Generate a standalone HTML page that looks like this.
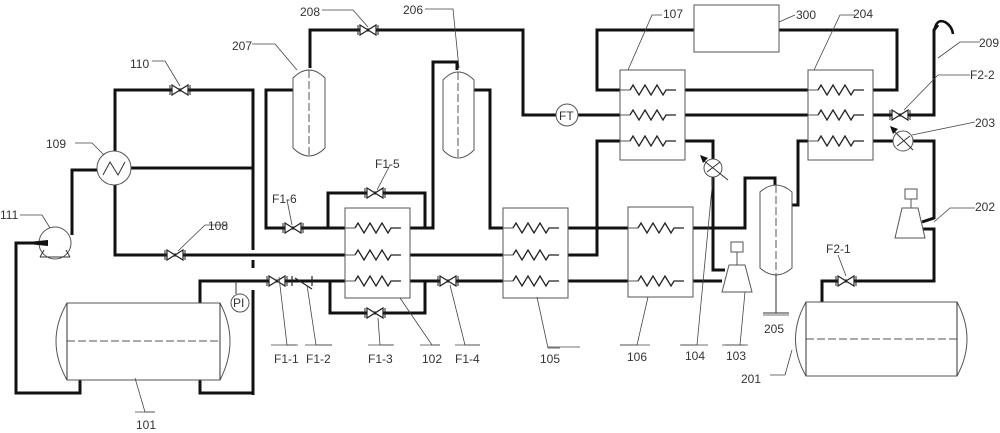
<!DOCTYPE html>
<html><head><meta charset="utf-8"><style>
html,body{margin:0;padding:0;background:#fff;}
svg{display:block;}
text{font-family:"Liberation Sans",sans-serif;font-size:12px;fill:#333;}
</style></head><body>
<svg width="1000" height="433" viewBox="0 0 1000 433" xmlns="http://www.w3.org/2000/svg">
<defs>
<g id="v"><polygon points="-8,-5 8,5 8,-5 -8,5" fill="#fff" stroke="#222" stroke-width="1.2"/><line x1="-10" y1="-5" x2="-10" y2="5" stroke="#222"/><line x1="10" y1="-5" x2="10" y2="5" stroke="#222"/></g>
<g id="c"><line x1="0" y1="0" x2="10" y2="0" stroke="#555" stroke-width="1"/><path d="M10,0 l3,-5 l6,10 l6,-10 l6,10 l6,-10 l6,10 l3,-5 l10,0" fill="none" stroke="#222" stroke-width="1.3"/></g>
</defs>
<g fill="none" stroke="#111" stroke-width="3">
<!-- left loop -->
<polyline points="115,168 115,90 253,90 253,250"/>
<line x1="253" y1="290" x2="253" y2="395"/>
<line x1="253" y1="260" x2="253" y2="268"/>
<polyline points="131,168 253,168"/>
<polyline points="98,170 72,170 72,235"/>
<polyline points="115,185 115,255 345,255"/>
<polyline points="33,243 16,243 16,393 80,393 80,380"/>
<polyline points="200,303 200,281 345,281"/>
<polyline points="200,380 200,393 253,393"/>
<polyline points="330,281 330,313 425,313 425,281"/>
<polyline points="410,281 503,281"/>
<polyline points="410,255 503,255"/>
<polyline points="345,228 266,228 266,90 293,90"/>
<polyline points="328,228 328,193 425,193 425,228"/>
<polyline points="410,228 433,228 433,62 457,62 457,70"/>
<polyline points="474,90 490,90 490,228 503,228"/>
<polyline points="310,68 310,30 523,30 523,115 556,115"/>
<line x1="578" y1="115" x2="620" y2="115"/>
<!-- right -->
<polyline points="620,90 597,90 597,30 694,30"/>
<polyline points="779,30 897,30 897,90 873,90"/>
<line x1="685" y1="90" x2="808" y2="90"/>
<line x1="685" y1="115" x2="808" y2="115"/>
<polyline points="873,115 934,115 934,30 938,25"/>
<path d="M934,32 Q936,18 945,22 Q952,26 953,34" stroke-width="2.5"/>
<polyline points="620,141 597,141 597,255 568,255"/>
<polyline points="685,141 713,141 713,270 725,270"/>
<line x1="568" y1="228" x2="628" y2="228"/>
<line x1="568" y1="281" x2="628" y2="281"/>
<polyline points="693,228 745,228 745,178 775,178 775,185"/>
<polyline points="792,205 798,205 798,141 808,141"/>
<line x1="693" y1="281" x2="722" y2="281"/>
<polyline points="873,141 934,141 934,218 922,222"/>
<polyline points="922,229 934,229 934,281 822,281 822,302"/>
</g>
<g fill="#fff" stroke="#555" stroke-width="1">
<rect x="345" y="208" width="65" height="90"/>
<rect x="503" y="208" width="65" height="90"/>
<rect x="628" y="207" width="65" height="90"/>
<rect x="620" y="70" width="65" height="90"/>
<rect x="808" y="70" width="65" height="90"/>
<rect x="694" y="5" width="85" height="47"/>
<!-- vessels -->
<path d="M293,78 Q309,62 325,78 L325,148 Q309,164 293,148 Z"/>
<path d="M443,80 Q458,64 474,80 L474,150 Q458,166 443,150 Z"/>
<path d="M760,192 Q776,178 792,192 L792,268 Q776,282 760,268 Z"/>
<!-- tanks -->
<path d="M67,303 L220,303 Q240,341 220,380 L67,380 Q45,341 67,303 Z"/>
<path d="M306,302 L456,302 Q476,339 456,376 L306,376 Q286,339 306,302 Z" transform="translate(0,0)" opacity="0"/>
<path d="M806,302 L957,302 Q977,339 957,376 L806,376 Q785,339 806,302 Z"/>
<circle cx="114" cy="168" r="17"/><circle cx="55" cy="243" r="16"/>
<circle cx="567" cy="115" r="11"/><circle cx="240" cy="303" r="9"/>
<circle cx="713" cy="168" r="9"/><circle cx="903" cy="141" r="10"/>
<polygon points="729,265 745,265 752,292 722,292"/>
<rect x="731" y="242" width="12" height="10"/><line x1="737" y1="252" x2="737" y2="265"/>
<polygon points="902,208 918,208 925,238 895,238"/>
<rect x="905" y="189" width="12" height="10"/><line x1="911" y1="199" x2="911" y2="208"/>
</g>
<g stroke="#555" stroke-width="1" fill="none" stroke-dasharray="8,3">
<line x1="67" y1="341" x2="220" y2="341"/><line x1="806" y1="339" x2="957" y2="339"/>
<line x1="309" y1="70" x2="309" y2="155"/><line x1="458" y1="72" x2="458" y2="158"/><line x1="776" y1="185" x2="776" y2="275"/>
</g>
<g stroke="#333" stroke-width="1" fill="none">
<line x1="67" y1="303" x2="67" y2="380"/><line x1="220" y1="303" x2="220" y2="380"/>
<line x1="806" y1="302" x2="806" y2="376"/><line x1="957" y1="302" x2="957" y2="376"/>
<path d="M103,175 L110,162 L118,175 L125,162"/>
<line x1="776" y1="275" x2="776" y2="313"/><line x1="763" y1="313" x2="789" y2="313"/>
<polyline points="236,281 236,294"/>
<line x1="40" y1="257" x2="70" y2="257"/><line x1="44" y1="250" x2="40" y2="257"/><line x1="66" y1="250" x2="70" y2="257"/>
<line x1="703" y1="160" x2="728" y2="180"/><line x1="893" y1="130" x2="913" y2="150"/>
<line x1="707" y1="172" x2="720" y2="162"/><line x1="897" y1="146" x2="910" y2="136"/>
</g>
<path d="M18,243 L48,240 L48,246 Z" fill="#111"/>
<polygon points="700,155 708,158 703,163" fill="#111"/><polygon points="890,126 898,129 893,134" fill="#111"/>
<!-- coils -->
<use href="#c" x="345" y="228"/><use href="#c" x="345" y="255"/><use href="#c" x="345" y="281"/>
<use href="#c" x="503" y="228"/><use href="#c" x="503" y="255"/><use href="#c" x="503" y="281"/>
<use href="#c" x="628" y="228"/><use href="#c" x="628" y="281"/>
<use href="#c" x="620" y="90"/><use href="#c" x="620" y="115"/><use href="#c" x="620" y="141"/>
<use href="#c" x="808" y="90"/><use href="#c" x="808" y="115"/><use href="#c" x="808" y="141"/>
<!-- valves -->
<use href="#v" x="180" y="90"/><use href="#v" x="175" y="255"/><use href="#v" x="368" y="30"/>
<use href="#v" x="293" y="228"/><use href="#v" x="375" y="193"/><use href="#v" x="277" y="281"/>
<use href="#v" x="375" y="313"/><use href="#v" x="448" y="281"/><use href="#v" x="900" y="115"/><use href="#v" x="846" y="281"/>
<g stroke="#222" stroke-width="1.2" fill="#fff"><line x1="292" y1="276" x2="292" y2="286"/><line x1="312" y1="276" x2="312" y2="286"/><line x1="295" y1="278" x2="312" y2="289"/></g>
<!-- leaders -->
<g stroke="#444" stroke-width="0.8" fill="none">
<polyline points="152,61 165,61 180,86"/><polyline points="75,143 92,143 104,155"/><polyline points="20,215 42,215 50,228"/>
<polyline points="228,225 205,225 178,251"/><polyline points="252,44 275,44 297,70"/><polyline points="322,10 353,10 368,27"/>
<polyline points="425,9 453,9 459,68"/><polyline points="287,200 292,225"/><polyline points="390,165 377,190"/>
<polyline points="279,277 287,345 296,345"/><polyline points="307,285 316,345 332,345"/><polyline points="378,318 380,345 393,345"/>
<polyline points="400,298 432,345 440,345"/><polyline points="450,285 465,345 480,345"/><polyline points="135,378 145,412 155,412"/>
<polyline points="537,297 548,348 560,348"/><polyline points="648,297 637,345 620,345"/><polyline points="713,177 697,345 681,345"/>
<polyline points="745,292 740,345 725,345 745,345"/><polyline points="628,70 652,15 662,15"/><polyline points="779,22 795,15"/>
<polyline points="814,70 840,15 855,15"/><polyline points="938,58 960,42 980,42"/><polyline points="904,110 938,75 970,75"/>
<polyline points="912,135 975,122"/><polyline points="934,222 950,208 975,208"/><polyline points="846,276 838,255"/>
<polyline points="792,350 785,375 770,375"/><line x1="548" y1="347" x2="580" y2="347"/><line x1="620" y1="345" x2="650" y2="345"/>
<line x1="680" y1="345" x2="708" y2="345"/><line x1="722" y1="345" x2="748" y2="345"/><line x1="271" y1="345" x2="298" y2="345"/>
<line x1="305" y1="345" x2="332" y2="345"/><line x1="368" y1="345" x2="394" y2="345"/><line x1="420" y1="345" x2="440" y2="345"/>
<line x1="455" y1="345" x2="480" y2="345"/><line x1="135" y1="412" x2="155" y2="412"/><line x1="763" y1="315" x2="789" y2="315"/>
</g>
<g>
<text x="130" y="68">110</text><text x="46" y="148">109</text><text x="0" y="219">111</text><text x="208" y="230">108</text>
<text x="232" y="50">207</text><text x="300" y="16">208</text><text x="403" y="14">206</text>
<text x="272" y="203">F1-6</text><text x="375" y="168">F1-5</text><text x="233" y="307" font-size="10">PI</text>
<text x="274" y="363">F1-1</text><text x="306" y="363">F1-2</text><text x="368" y="363">F1-3</text><text x="422" y="363">102</text><text x="455" y="363">F1-4</text>
<text x="136" y="429">101</text>
<text x="559" y="120" font-size="10">FT</text>
<text x="663" y="18">107</text><text x="796" y="19">300</text><text x="853" y="18">204</text>
<text x="979" y="47">209</text><text x="970" y="79">F2-2</text><text x="975" y="127">203</text><text x="975" y="211">202</text>
<text x="826" y="253">F2-1</text><text x="764" y="333">205</text>
<text x="540" y="363">105</text><text x="627" y="361">106</text><text x="685" y="360">104</text><text x="726" y="360">103</text><text x="741" y="383">201</text>
</g>
</svg>
</body></html>
